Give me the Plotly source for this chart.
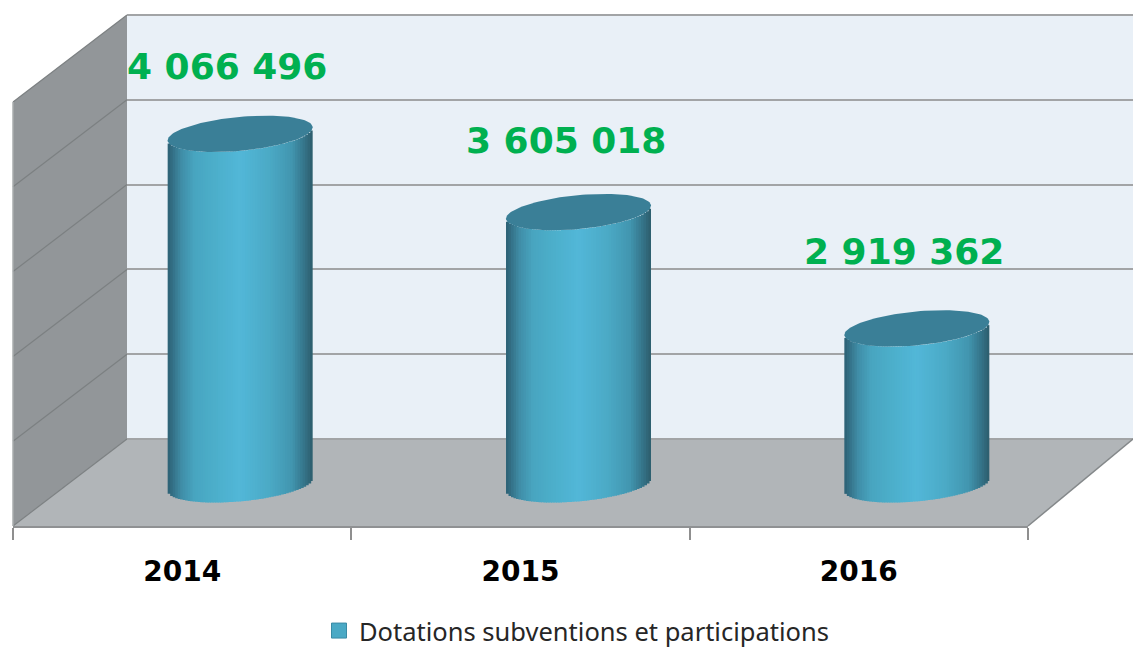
import math
import plotly.graph_objects as go

# ---- data ----
years = ["2014", "2015", "2016"]
values = [4066496, 3605018, 2919362]
value_labels = ["4 066 496", "3 605 018", "2 919 362"]
series_name = "Dotations subventions et participations"
axis_min = 2000000
axis_max = 4500000
axis_step = 500000

# ---- figure geometry (pixels) ----
W, H = 1133, 648
BOTTOM_MARGIN = 40        # reserved so the legend never pushes the plot area
PLOT_H = H - BOTTOM_MARGIN
BACK_L, BACK_TOP, BACK_BOT = 127, 15, 439
FRONT_L, FRONT_R, FRONT_Y = 13, 1028, 526
DEPTH_X, DEPTH_Y = 114, 87
MID_X = 58                # bars stand half way through the floor depth
MID_BASE_Y = 484.3
CAT_PX = (FRONT_R - FRONT_L) / 3
BAR_W_PX = 145
UNITS_PER_PX = (axis_max - axis_min) / (BACK_BOT - BACK_TOP)
ELL_B, ELL_SLOPE = 17.0, 0.09
LABEL_DX = [-13, -13, -13]
LABEL_DY = [67, 72, 77]

# ---- colours ----
BACK = "#e9f0f7"
FLOOR = "#b1b5b8"
WALL = "#929699"
GRID = "#a2a4a6"
WALL_GRID = "#7c8082"
TOP = "#3a7f97"
GREEN = "#00b050"
STOPS = [(0.0, (46, 100, 120)), (0.09, (64, 142, 168)), (0.18, (72, 165, 192)),
         (0.33, (76, 175, 203)), (0.50, (82, 183, 216)), (0.70, (75, 170, 198)),
         (0.86, (66, 150, 176)), (0.94, (54, 120, 142)), (1.0, (46, 96, 112))]


def shade(t):
    for (t0, c0), (t1, c1) in zip(STOPS, STOPS[1:]):
        if t <= t1:
            f = (t - t0) / (t1 - t0)
            r, g, b = [round(a + (c - a) * f) for a, c in zip(c0, c1)]
            return f"rgb({r},{g},{b})"
    return "rgb(46,96,112)"


def px_x(p):
    return p / W


def px_y(p):
    return 1 - p / PLOT_H


def rim_px(dx):
    """Lower edge of the tilted ellipse, in px below its centre."""
    a = BAR_W_PX / 2
    return -ELL_SLOPE * dx + ELL_B * math.sqrt(max(0.0, 1 - (dx / a) ** 2))


fig = go.Figure()

# back wall subplot: gridlines come from the value axis
fig.add_trace(go.Scatter(x=[0], y=[axis_min], xaxis="x", yaxis="y", mode="markers",
                         marker=dict(opacity=0), showlegend=False, hoverinfo="skip"))

# cylinders: overlaid narrow bars give the shading and the rounded foot
N = 58
strip = BAR_W_PX / N
idx = list(range(len(years)))
heights = [v - axis_min for v in values]
for k in range(N):
    left = -BAR_W_PX / 2 + k * strip
    dx = left + strip / 2
    overlap = 1.0 if k < N - 1 else 0.0
    fig.add_trace(go.Bar(
        x=idx, y=heights,
        base=[axis_min - rim_px(dx) * UNITS_PER_PX] * 3,
        offset=left / CAT_PX, width=(strip + overlap) / CAT_PX,
        marker=dict(color=shade(k / (N - 1)), line=dict(width=0)),
        xaxis="x2", yaxis="y2", showlegend=False, hoverinfo="skip"))

# cylinder lids
for i, v in enumerate(values):
    xs, ys = [], []
    for s in range(121):
        th = 2 * math.pi * s / 120
        dx = BAR_W_PX / 2 * math.cos(th)
        dy = -ELL_SLOPE * dx + ELL_B * math.sin(th)
        xs.append(i + dx / CAT_PX)
        ys.append(v - dy * UNITS_PER_PX)
    fig.add_trace(go.Scatter(x=xs, y=ys, mode="lines", fill="toself", fillcolor=TOP,
                             line=dict(width=0, color=TOP), xaxis="x2", yaxis="y2",
                             showlegend=False, hoverinfo="skip"))

# front category axis + legend entry
fig.add_trace(go.Scatter(x=years, y=[0, 0, 0], xaxis="x3", yaxis="y3", mode="markers",
                         marker=dict(opacity=0), showlegend=False, hoverinfo="skip"))
fig.add_trace(go.Scatter(x=[None], y=[None], mode="markers", name=series_name,
                         xaxis="x3", yaxis="y3",
                         marker=dict(symbol="square", size=15, color="#4aa9c5",
                                     line=dict(width=1, color="#3a8ba5"))))

# walls and floor
shapes = []


def poly(points, fill):
    path = "M " + " L ".join(f"{px_x(x):.5f},{px_y(y):.5f}" for x, y in points) + " Z"
    shapes.append(dict(type="path", xref="paper", yref="paper", path=path, fillcolor=fill,
                       line=dict(width=0), layer="below"))


poly([(BACK_L, BACK_TOP), (W, BACK_TOP), (W, BACK_BOT), (BACK_L, BACK_BOT)], BACK)
poly([(FRONT_L, BACK_TOP + DEPTH_Y), (BACK_L, BACK_TOP), (BACK_L, BACK_BOT),
      (FRONT_L, FRONT_Y)], WALL)
poly([(FRONT_L, FRONT_Y), (FRONT_R, FRONT_Y), (W, BACK_BOT), (BACK_L, BACK_BOT)], FLOOR)

tick_values = list(range(axis_min, axis_max + 1, axis_step))
for tv in tick_values:
    yb = BACK_BOT - (tv - axis_min) / UNITS_PER_PX
    shapes.append(dict(type="line", xref="paper", yref="paper", layer="below",
                       x0=px_x(FRONT_L), x1=px_x(BACK_L), y0=px_y(yb + DEPTH_Y), y1=px_y(yb),
                       line=dict(color=WALL_GRID, width=1.2)))
# top and bottom edges of the back wall (the axis leaves out its end gridlines)
for yb in (BACK_TOP, BACK_BOT):
    shapes.append(dict(type="line", xref="paper", yref="paper", layer="below",
                       x0=px_x(BACK_L), x1=1, y0=px_y(yb), y1=px_y(yb),
                       line=dict(color=GRID, width=2)))
# edges of the box
shapes.append(dict(type="line", xref="paper", yref="paper", layer="below",
                   x0=px_x(FRONT_L), x1=px_x(FRONT_L), y0=px_y(BACK_TOP + DEPTH_Y), y1=px_y(FRONT_Y),
                   line=dict(color="#a9acae", width=1.5)))
shapes.append(dict(type="line", xref="paper", yref="paper", layer="below",
                   x0=px_x(FRONT_R), x1=px_x(W), y0=px_y(FRONT_Y), y1=px_y(BACK_BOT),
                   line=dict(color="#84888a", width=1.5)))

# value labels
annotations = [
    dict(x=i, y=v, xref="x2", yref="y2", text=t, showarrow=False,
         xshift=LABEL_DX[i], yshift=LABEL_DY[i], xanchor="center", yanchor="middle",
         font=dict(family="DejaVu Sans", size=36, color=GREEN, weight="bold"))
    for i, (v, t) in enumerate(zip(values, value_labels))
]

y2_bottom = axis_min - (527 - MID_BASE_Y) * UNITS_PER_PX
y2_top = axis_min + (MID_BASE_Y - 40) * UNITS_PER_PX

fig.update_layout(
    width=W, height=H, autosize=False,
    margin=dict(l=0, r=0, t=0, b=BOTTOM_MARGIN, pad=0, autoexpand=False),
    paper_bgcolor="white", plot_bgcolor="rgba(0,0,0,0)",
    barmode="overlay",
    shapes=shapes, annotations=annotations,
    xaxis=dict(domain=[px_x(BACK_L), 1], range=[0, 1], visible=False, anchor="y"),
    yaxis=dict(domain=[px_y(BACK_BOT), px_y(BACK_TOP)], range=[axis_min, axis_max],
               anchor="x", tickmode="array", tickvals=tick_values, showticklabels=False,
               ticks="", showgrid=True, gridcolor=GRID, gridwidth=2, zeroline=False,
               showline=False),
    xaxis2=dict(domain=[px_x(FRONT_L + MID_X), px_x(FRONT_R + MID_X)], range=[-0.5, 2.5],
                visible=False, anchor="y2"),
    yaxis2=dict(domain=[px_y(527), px_y(40)], range=[y2_bottom, y2_top], visible=False,
                anchor="x2"),
    xaxis3=dict(domain=[px_x(FRONT_L), px_x(FRONT_R)], type="category", categoryorder="array",
                categoryarray=years, range=[-0.5, 2.5], anchor="y3", tickson="boundaries",
                ticks="outside", ticklen=12, tickwidth=1.5, tickcolor="#8f8f8f",
                showline=True, linecolor="#8f9193", linewidth=2, showgrid=False,
                ticklabelstandoff=19, automargin=False,
                tickfont=dict(family="DejaVu Sans", size=28, color="black", weight="bold")),
    yaxis3=dict(domain=[px_y(FRONT_Y), px_y(FRONT_Y - 100)], range=[0, 1], visible=False,
                anchor="x3"),
    showlegend=True,
    legend=dict(x=px_x(319), y=px_y(631), xanchor="left", yanchor="middle",
                bgcolor="rgba(0,0,0,0)", borderwidth=0, itemwidth=30,
                font=dict(family="Noto Sans", size=25.5, color="#262626")),
)

fig.write_html("out.html", config=dict(displayModeBar=False),
               post_script="document.body.style.margin='0';")
